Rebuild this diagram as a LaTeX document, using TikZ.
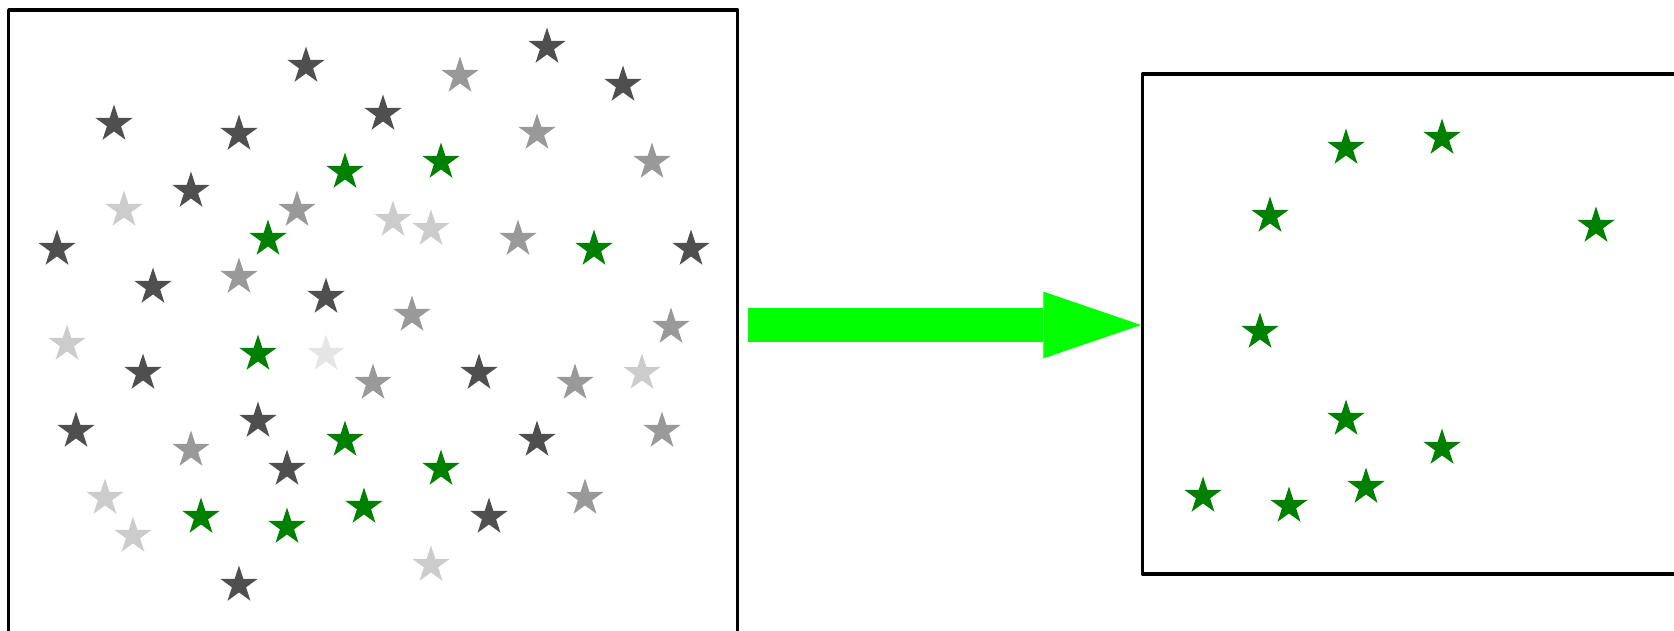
\documentclass[tikz,border=0pt]{standalone}
\usepackage{tikz}
\usetikzlibrary{shapes.geometric,arrows.meta,positioning}

\definecolor{stardark}{gray}{0.31}
\definecolor{starmid}{gray}{0.6}
\definecolor{starlight}{gray}{0.8}
\definecolor{starpale}{gray}{0.9}
\definecolor{stargreen}{rgb}{0,0.5,0}
\definecolor{arrowgreen}{rgb}{0,1,0}

\tikzset{
  starnode/.style={star, star points=5, star point ratio=2.618, inner sep=0pt,
    minimum size=11.1pt, draw=none},
  frame/.style={line width=0.95pt, line join=round},
  fatarrow/.style={draw=arrowgreen, line width=9.5pt,
    -{Triangle[length=27.8pt, width=19pt, line width=0pt]}}
}

\begin{document}
\begin{tikzpicture}[x=0.01cm, y=-0.01cm]
  \useasboundingbox (0,0) rectangle (1674,631);
  \clip (0,0) rectangle (1674,631);
  % left box, runs off the bottom
  \draw[frame] (8.7,640) -- (8.7,10) -- (737.7,10) -- (737.7,640);
  % right box, runs off the right
  \draw[frame] (1680,74) -- (1142.5,74) -- (1142.5,574) -- (1680,574);
  % dark stars
  \foreach \x/\y [count=\i] in {306/66, 114/124, 239/134, 191/191, 57/249, 153/287,
      326/297, 547/47, 623/85, 383/114, 691/249, 143/373, 76/431, 258/421,
      287/469, 239/585, 479/373, 537/440, 489/517}
    \node[starnode, fill=stardark] (d\i) at (\x,\y) {};
  % mid grey stars
  \foreach \x/\y [count=\i] in {297/210, 239/277, 460/76, 537/133, 652/162, 518/239,
      412/315, 671/327, 373/383, 191/450, 575/383, 662/431, 585/498}
    \node[starnode, fill=starmid] (m\i) at (\x,\y) {};
  % light stars
  \foreach \x/\y [count=\i] in {124/210, 393/220, 431/229, 67/344, 105/498, 133/536,
      642/373, 431/565}
    \node[starnode, fill=starlight] (l\i) at (\x,\y) {};
  \node[starnode, fill=starpale] (p1) at (326,354) {};
  % green stars
  \foreach \x/\y [count=\i] in {345/172, 268/239, 441/162, 594/249, 258/354, 345/440,
      201/517, 287/527, 364/507, 441/469}
    \node[starnode, fill=stargreen] (g\i) at (\x,\y) {};
  % green stars, picked out
  \foreach \x/\y [count=\i] in {1346/148, 1442/138, 1270/216, 1596/226, 1260/332,
      1346/419, 1442/448, 1203/496, 1289/506, 1366/487}
    \node[starnode, fill=stargreen] (r\i) at (\x,\y) {};
  % arrow
  \coordinate (from) at (748,325);
  \coordinate (to) at (1141,325);
  \draw[fatarrow] (from) -- (to);
\end{tikzpicture}
\end{document}
